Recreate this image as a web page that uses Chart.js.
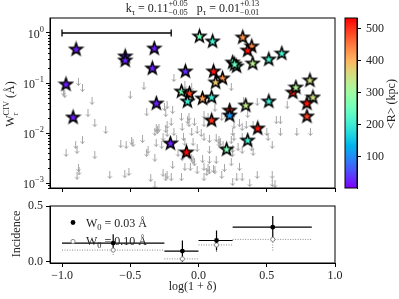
<!DOCTYPE html>
<html>
<head>
<meta charset="utf-8">
<script src="https://cdn.jsdelivr.net/npm/chart.js@4.4.0/dist/chart.umd.min.js"></script>
<style>
  html, body { margin: 0; padding: 0; background: #fff; }
  #wrap { position: relative; width: 399px; height: 299px; }
  #wrap canvas { position: absolute; left: 0; top: 0; }
</style>
</head>
<body>
<div id="wrap">
  <canvas id="top" width="399" height="299"></canvas>
  <canvas id="bot" width="399" height="299"></canvas>
  <canvas id="cbar" width="399" height="299"></canvas>
</div>
<script>
// detections (stars): log(1+delta), W_r (A), <R> (kpc)
const starX = [-0.897,-0.537,-0.537,-0.971,-0.919,-0.324,-0.338,-0.096,0.007,0.103,
  0.324,0.390,0.360,0.397,0.515,0.610,0.816,0.691,0.713,0.838,
  0.794,0.794,0.110,0.176,0.125,0.250,0.279,-0.125,-0.066,-0.081,
  0.029,0.096,-0.309,0.228,0.228,0.096,0.346,0.515,0.434,0.360,
  0.206,-0.088,-0.206,0.265];
const starW = [0.479,0.347,0.288,0.0955,0.0209,0.501,0.200,0.174,0.871,0.692,
  0.832,0.550,0.457,0.251,0.302,0.398,0.115,0.066,0.083,0.0525,
  0.0398,0.0219,0.174,0.126,0.105,0.263,0.219,0.069,0.063,0.0437,
  0.050,0.0525,0.0398,0.0288,0.0229,0.0182,0.0363,0.0437,0.0126,0.00724,
  0.00479,0.00417,0.0063,0.240];
const starR = [20,20,25,20,20,20,25,30,260,210,
  430,440,520,330,210,210,350,510,320,350,
  520,490,520,430,380,240,230,260,490,200,
  420,200,20,510,110,500,340,200,520,210,
  270,530,25,250];

// upper limits (arrows)
const limX = [-0.99,-0.98,-0.88,-0.85,-0.78,-0.50,-0.40,-0.81,-0.76,-0.68,
  -0.90,-0.89,-0.85,-0.97,-0.76,-0.57,-0.53,-0.49,-0.48,-0.41,
  -0.38,-0.38,-0.88,-0.875,-0.89,-0.65,-0.54,-0.51,
  -0.32,-0.31,-0.29,-0.24,-0.26,-0.23,-0.23,-0.19,-0.125,-0.12,
  -0.07,-0.07,-0.05,-0.32,-0.19,-0.12,-0.10,-0.03,-0.04,-0.01,
  -0.26,-0.24,-0.35,-0.32,-0.125,-0.23,-0.18,-0.10,-0.05,-0.25,
  -0.24,-0.20,-0.30,-0.23,-0.18,-0.08,-0.03,-0.01,-0.11,-0.16,
  -0.10,-0.31,-0.27,-0.37,-0.15,-0.07,-0.05,-0.04,-0.06,-0.01,-0.20,
  0.04,0.04,0.02,0.03,0.06,0.07,0.12,0.13,0.15,0.16,
  0.18,0.08,0.25,0.26,0.24,0.29,0.25,0.24,0.19,0.17,
  0.30,0.04,0.25,0.32,0.32,0.30,0.35,0.36,0.40,0.50,
  0.51,0.57,0.60,0.60,0.72,0.82,0.54,0.40,0.39,0.32,
  0.32,0.43,0.375,0.54,0.54,0.65,0.07,0.12,0.17,0.26,
  0.43,0.04,0.08,0.15,0.25,0.08,0.13,0.28,0.56,0.04,
  0.08,0.11,0.24,0.33];
const limW = [0.066,0.060,0.105,0.079,0.044,0.058,0.087,0.025,0.0158,0.0115,
  0.0058,0.0046,0.0072,0.004,0.0036,0.006,0.0058,0.0069,0.0063,0.0076,
  0.026,0.004,0.002,0.0017,0.0014,0.00145,0.0015,0.00166,
  0.0105,0.0126,0.0126,0.012,0.0083,0.036,0.010,0.029,0.021,0.0132,
  0.021,0.0158,0.0105,0.0032,0.0023,0.0033,0.0021,0.0026,0.0066,0.005,
  0.0016,0.0013,0.00126,0.0009,0.0013,0.00145,0.126,0.091,0.083,0.033,
  0.025,0.0166,0.0115,0.0145,0.0105,0.018,0.0166,0.0115,0.0083,0.0076,
  0.0066,0.0063,0.0058,0.0046,0.004,0.0036,0.0032,0.0029,0.0021,0.0018,0.0013,
  0.0158,0.023,0.010,0.003,0.00166,0.002,0.0018,0.0079,0.0072,0.0066,
  0.0058,0.0046,0.0105,0.0083,0.0072,0.0052,0.004,0.0026,0.002,0.00145,
  0.0021,0.0013,0.00105,0.0132,0.0083,0.0158,0.0145,0.024,0.0145,0.0105,
  0.0083,0.018,0.018,0.0105,0.0105,0.0105,0.0058,0.0042,0.0052,0.0046,
  0.0013,0.00145,0.001,0.00145,0.001,0.036,0.021,0.032,0.021,0.0145,
  0.042,0.0083,0.0076,0.0063,0.0048,0.0029,0.0029,0.0013,0.00095,0.0021,
  0.0018,0.0019,0.083,0.044];

// scale bar at the top left
const barX = [-1.0, -0.2];
const barW = [1.0, 1.0];

// incidence panel
const binLo = [-1.0, -0.25, 0.0, 0.25];
const binHi = [-0.25, 0.0, 0.25, 0.83];
const binX = [-0.625, -0.118, 0.132, 0.544];
const inc03 = [0.167, 0.095, 0.19, 0.31];
const inc03Lo = [0.087, 0.0, 0.10, 0.21];
const inc03Hi = [0.247, 0.19, 0.28, 0.41];
const inc10 = [0.104, 0.025, 0.15, 0.20];
const inc10Lo = [0.06, 0.0, 0.087, 0.10];
const inc10Hi = [0.15, 0.04, 0.19, 0.26];

const xTicks = [-1.0, -0.5, 0.0, 0.5, 1.0];
const wTicks = [1e-3, 1e-2, 1e-1, 1];
const incTicks = [0.0, 0.5];
const rTicks = [100, 200, 300, 400, 500];
const rMin = 3, rMax = 534;

const SERIF = '"Liberation Serif", "DejaVu Serif", serif';
const TXT = '#222';

function rainbow(t) {
  t = Math.max(0, Math.min(1, t));
  const r = Math.min(1, Math.abs(2 * t - 0.5));
  const g = Math.sin(Math.PI * t);
  const b = Math.cos(Math.PI * t / 2);
  return `rgb(${Math.round(r * 255)},${Math.round(g * 255)},${Math.round(b * 255)})`;
}

const starCache = {};
function starImg(col) {
  if (starCache[col]) return starCache[col];
  const c = document.createElement('canvas');
  c.width = 17; c.height = 17;
  const g = c.getContext('2d');
  g.translate(8.5, 9);
  g.beginPath();
  for (let i = 0; i < 10; i++) {
    const r = i % 2 ? 2.6 : 6.4;
    const a = -Math.PI / 2 + i * Math.PI / 5;
    g.lineTo(r * Math.cos(a), r * Math.sin(a));
  }
  g.closePath();
  g.fillStyle = col; g.fill();
  g.lineWidth = 1.6; g.strokeStyle = '#000'; g.lineJoin = 'miter'; g.stroke();
  starCache[col] = c;
  return c;
}

const arrow = (() => {
  const c = document.createElement('canvas');
  c.width = 7; c.height = 8;
  const g = c.getContext('2d');
  g.strokeStyle = 'rgba(150,150,150,0.85)';
  g.lineWidth = 1;
  g.beginPath();
  g.moveTo(3.5, 0); g.lineTo(3.5, 7.5);
  g.moveTo(1.5, 5.2); g.lineTo(3.5, 7.5); g.lineTo(5.5, 5.2);
  g.stroke();
  return c;
})();

// rich text with sub/superscripts
function partsWidth(ctx, parts, fs) {
  let w = 0;
  for (const p of parts) {
    if (typeof p === 'string') { ctx.font = fs + 'px ' + SERIF; w += ctx.measureText(p).width; }
    else {
      ctx.font = (fs * 0.7) + 'px ' + SERIF;
      w += Math.max(ctx.measureText(p.sup || '').width, ctx.measureText(p.sub || '').width);
    }
  }
  return w;
}
function drawParts(ctx, parts, x, y, fs) {
  ctx.textAlign = 'left'; ctx.textBaseline = 'alphabetic';
  for (const p of parts) {
    if (typeof p === 'string') {
      ctx.font = fs + 'px ' + SERIF; ctx.fillText(p, x, y); x += ctx.measureText(p).width;
    } else {
      ctx.font = (fs * 0.7) + 'px ' + SERIF;
      if (p.sup) ctx.fillText(p.sup, x, y - fs * 0.42);
      if (p.sub) ctx.fillText(p.sub, x, y + fs * 0.28);
      x += Math.max(ctx.measureText(p.sup || '').width, ctx.measureText(p.sub || '').width);
    }
  }
}
function drawRotated(ctx, parts, cx, cy, fs) {
  ctx.save();
  ctx.translate(cx, cy); ctx.rotate(-Math.PI / 2);
  drawParts(ctx, parts, -partsWidth(ctx, parts, fs) / 2, fs * 0.35, fs);
  ctx.restore();
}

function frame(chart) {
  const a = chart.chartArea, ctx = chart.ctx;
  ctx.save();
  ctx.strokeStyle = '#000'; ctx.lineWidth = 1;
  ctx.strokeRect(a.left, a.top, a.right - a.left, a.bottom - a.top);
  ctx.restore();
}

const axisGrid = { drawOnChartArea: false, tickLength: 4, color: '#000', tickColor: '#000', lineWidth: 1 };

// ---------- top panel ----------
const topDeco = {
  id: 'topDeco',
  afterDraw(chart) {
    const ctx = chart.ctx, ys = chart.scales.y, a = chart.chartArea;
    frame(chart);
    ctx.save();
    ctx.strokeStyle = '#000'; ctx.lineWidth = 1;
    ctx.beginPath();
    for (let e = -4; e <= 0; e++) {
      for (let m = 2; m <= 9; m++) {
        const v = m * Math.pow(10, e);
        if (v < ys.min || v > ys.max) continue;
        const p = Math.round(ys.getPixelForValue(v)) + 0.5;
        ctx.moveTo(a.left - 2, p); ctx.lineTo(a.left, p);
      }
    }
    ctx.stroke();
    ctx.fillStyle = TXT;
    wTicks.forEach(v => {
      const e = Math.round(Math.log10(v));
      const parts = ['10', { sup: e < 0 ? '\u2212' + (-e) : String(e) }];
      const w = partsWidth(ctx, parts, 12);
      drawParts(ctx, parts, 44 - w, ys.getPixelForValue(v) + 4.5, 12);
    });
    const title = ['k', { sub: '\u03c4' }, ' = 0.11', { sup: '+0.05', sub: '\u22120.05' },
      '   p', { sub: '\u03c4' }, ' = 0.01', { sup: '+0.13', sub: '\u22120.01' }];
    drawParts(ctx, title, (a.left + a.right) / 2 - partsWidth(ctx, title, 12) / 2, 11.5, 12);
    drawRotated(ctx, ['W', { sup: 'CIV', sub: 'r' }, ' (\u00c5)'], 10, 104, 12);
    ctx.restore();
  }
};

new Chart(document.getElementById('top'), {
  type: 'scatter',
  data: {
    datasets: [
      {
        data: starX.map((x, i) => ({ x: x, y: starW[i] })),
        pointStyle: c => starImg(rainbow((starR[c.dataIndex] - rMin) / (rMax - rMin))),
        radius: 4
      },
      {
        data: barX.map((x, i) => ({ x: x, y: barW[i] })),
        showLine: true, borderColor: '#000', borderWidth: 1.3,
        pointStyle: 'line', rotation: 90, radius: 3.5,
        pointBorderColor: '#000', pointBorderWidth: 1.3
      },
      {
        data: limX.map((x, i) => ({ x: x, y: limW[i] })),
        pointStyle: arrow, radius: 3
      }
    ]
  },
  options: {
    responsive: false, animation: false, devicePixelRatio: 1, events: [],
    layout: { padding: { left: 0, right: 64, top: 18, bottom: 0 } },
    plugins: { legend: { display: false }, tooltip: { enabled: false } },
    scales: {
      x: {
        type: 'linear', min: -1.088, max: 1.0,
        afterBuildTicks: s => { s.ticks = xTicks.map(v => ({ value: v })); },
        afterFit: s => { s.height = 111; },
        ticks: { display: false },
        grid: axisGrid, border: { color: '#000' }
      },
      y: {
        type: 'logarithmic', min: Math.pow(10, -3.1), max: Math.pow(10, 0.3),
        afterBuildTicks: s => { s.ticks = wTicks.map(v => ({ value: v })); },
        afterFit: s => { s.width = 50; },
        ticks: { display: false },
        grid: axisGrid, border: { color: '#000' }
      }
    }
  },
  plugins: [topDeco]
});

// ---------- incidence panel ----------
const errBars = {
  id: 'errBars',
  beforeDatasetsDraw(chart) {
    const ctx = chart.ctx, x = chart.scales.x, y = chart.scales.y;
    ctx.save();
    ctx.strokeStyle = '#8a8a8a'; ctx.lineWidth = 1; ctx.setLineDash([1, 1.5]);
    ctx.beginPath();
    binX.forEach((bx, i) => {
      const py = y.getPixelForValue(inc10[i]);
      ctx.moveTo(x.getPixelForValue(binLo[i]), py); ctx.lineTo(x.getPixelForValue(binHi[i]), py);
      const px = x.getPixelForValue(bx);
      ctx.moveTo(px, y.getPixelForValue(inc10Lo[i])); ctx.lineTo(px, y.getPixelForValue(inc10Hi[i]));
    });
    ctx.stroke();
    ctx.setLineDash([]);
    ctx.strokeStyle = '#000'; ctx.lineWidth = 1.2;
    ctx.beginPath();
    binX.forEach((bx, i) => {
      const py = y.getPixelForValue(inc03[i]);
      ctx.moveTo(x.getPixelForValue(binLo[i]), py); ctx.lineTo(x.getPixelForValue(binHi[i]), py);
      const px = x.getPixelForValue(bx);
      ctx.moveTo(px, y.getPixelForValue(inc03Lo[i])); ctx.lineTo(px, y.getPixelForValue(inc03Hi[i]));
    });
    ctx.stroke();
    ctx.restore();
  },
  afterDraw(chart) {
    const ctx = chart.ctx, a = chart.chartArea;
    frame(chart);
    ctx.save();
    ctx.fillStyle = '#000';
    ctx.beginPath(); ctx.arc(73, 222.5, 2.4, 0, Math.PI * 2); ctx.fill();
    ctx.strokeStyle = '#8a8a8a'; ctx.lineWidth = 1; ctx.fillStyle = '#fff';
    ctx.beginPath(); ctx.arc(73, 241.5, 2.1, 0, Math.PI * 2); ctx.fill(); ctx.stroke();
    ctx.fillStyle = TXT;
    drawParts(ctx, ['W', { sub: '0' }, ' = 0.03 \u00c5'], 86, 226.5, 12);
    drawParts(ctx, ['W', { sub: '0' }, ' = 0.10 \u00c5'], 86, 245, 12);
    drawRotated(ctx, ['Incidence'], 16, 234, 12);
    const xl = ['log(1 + \u03b4)'];
    drawParts(ctx, xl, (a.left + a.right) / 2 - partsWidth(ctx, xl, 12) / 2, 290, 12);
    ctx.restore();
  }
};

new Chart(document.getElementById('bot'), {
  type: 'scatter',
  data: {
    datasets: [
      {
        data: binX.map((x, i) => ({ x: x, y: inc03[i] })),
        pointStyle: 'circle', radius: 2.4, backgroundColor: '#000', borderColor: '#000', borderWidth: 0
      },
      {
        data: binX.map((x, i) => ({ x: x, y: inc10[i] })),
        pointStyle: 'circle', radius: 2.1, backgroundColor: '#fff', borderColor: '#8a8a8a', borderWidth: 1
      }
    ]
  },
  options: {
    responsive: false, animation: false, devicePixelRatio: 1, events: [],
    layout: { padding: { left: 0, right: 64, top: 206, bottom: 0 } },
    plugins: { legend: { display: false }, tooltip: { enabled: false } },
    scales: {
      x: {
        type: 'linear', min: -1.088, max: 1.0,
        afterBuildTicks: s => { s.ticks = xTicks.map(v => ({ value: v })); },
        afterFit: s => { s.height = 36; },
        ticks: {
          color: TXT, font: { family: SERIF, size: 12 }, padding: 2, maxRotation: 0,
          callback: v => (v < 0 ? '\u2212' : '') + Math.abs(v).toFixed(1)
        },
        grid: axisGrid, border: { color: '#000' }
      },
      y: {
        type: 'linear', min: -0.012, max: 0.5,
        afterBuildTicks: s => { s.ticks = incTicks.map(v => ({ value: v })); },
        afterFit: s => { s.width = 50; },
        ticks: { color: TXT, font: { family: SERIF, size: 12 }, padding: 3, callback: v => v.toFixed(1) },
        grid: axisGrid, border: { color: '#000' }
      }
    }
  },
  plugins: [errBars]
});

// ---------- colour bar ----------
const cbarFill = {
  id: 'cbarFill',
  beforeDatasetsDraw(chart) {
    const ctx = chart.ctx, a = chart.chartArea, ys = chart.scales.y;
    const g = ctx.createLinearGradient(0, ys.getPixelForValue(rMin), 0, ys.getPixelForValue(rMax));
    for (let i = 0; i <= 40; i++) g.addColorStop(i / 40, rainbow(i / 40));
    ctx.save();
    ctx.fillStyle = g;
    ctx.fillRect(a.left, a.top, a.right - a.left, a.bottom - a.top);
    ctx.restore();
  },
  afterDraw(chart) {
    frame(chart);
    const ctx = chart.ctx;
    ctx.save();
    ctx.fillStyle = TXT;
    drawRotated(ctx, ['<R> (kpc)'], 391, 104, 12);
    ctx.restore();
  }
};

new Chart(document.getElementById('cbar'), {
  type: 'scatter',
  data: { datasets: [] },
  options: {
    responsive: false, animation: false, devicePixelRatio: 1, events: [],
    layout: { padding: { left: 345, right: 0, top: 18, bottom: 111 } },
    plugins: { legend: { display: false }, tooltip: { enabled: false } },
    scales: {
      x: { display: false, min: 0, max: 1 },
      y: {
        position: 'right', type: 'linear', min: rMin, max: rMax,
        afterBuildTicks: s => { s.ticks = rTicks.map(v => ({ value: v })); },
        afterFit: s => { s.width = 42; },
        ticks: { color: TXT, font: { family: SERIF, size: 12 }, padding: 5 },
        grid: axisGrid, border: { color: '#000' }
      }
    }
  },
  plugins: [cbarFill]
});
</script>
</body>
</html>
